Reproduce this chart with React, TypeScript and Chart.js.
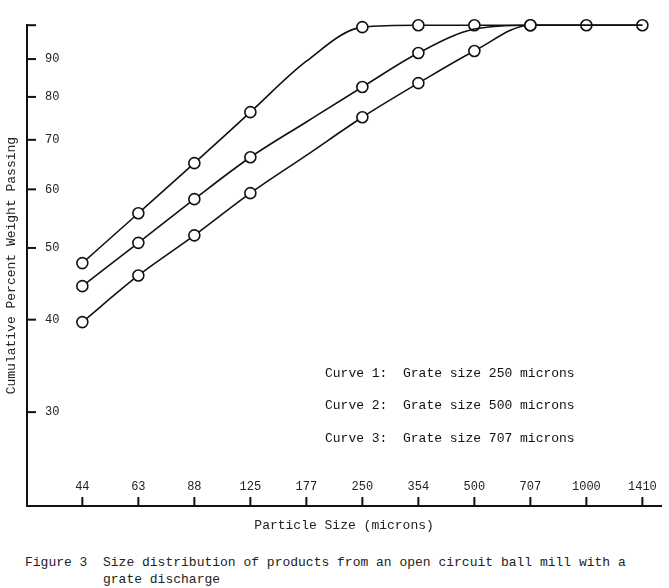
import React, { useEffect, useRef } from 'react';
import { Chart, registerables } from 'chart.js';

Chart.register(...registerables);

// Particle size classes (microns), evenly spaced on a sqrt(2) sieve series
const sizes = ['44', '63', '88', '125', '177', '250', '354', '500', '707', '1000', '1410'];

// Cumulative percent weight passing
const curve1 = [47.7, 55.7, 65.1, 76.3, 89.4, 99.4, 100, 100, 100, 100, 100];
const curve2 = [44.4, 50.8, 58.2, 66.3, 74.0, 82.5, 91.7, 98.8, 100, 100, 100];
const curve3 = [39.7, 45.9, 52.0, 59.3, 66.7, 75.1, 83.5, 92.3, 100, 100, 100];

// Indexes drawn without a marker for each curve
const noMarker1 = [4];
const noMarker2 = [4, 7, 8, 9, 10];
const noMarker3 = [4, 9, 10];

const yTicks = [30, 40, 50, 60, 70, 80, 90, 100];
const yTickLabels = ['30', '40', '50', '60', '70', '80', '90', ''];

const legendLines = [
  'Curve 1:  Grate size 250 microns',
  'Curve 2:  Grate size 500 microns',
  'Curve 3:  Grate size 707 microns',
];

const MONO = '"Liberation Mono", "DejaVu Sans Mono", monospace';

export default function App() {
  const ref = useRef<HTMLCanvasElement>(null);

  useEffect(() => {
    if (!ref.current) return;

    const tickMarks = {
      id: 'tickMarks',
      afterDraw(chart: any) {
        const { ctx, chartArea, scales } = chart;
        ctx.save();
        ctx.strokeStyle = '#111';
        ctx.lineWidth = 2;
        scales.x.ticks.forEach((t: any) => {
          const px = scales.x.getPixelForValue(t.value);
          ctx.beginPath();
          ctx.moveTo(px, chartArea.bottom);
          ctx.lineTo(px, chartArea.bottom - 9);
          ctx.stroke();
        });
        scales.y.ticks.forEach((t: any) => {
          const py = scales.y.getPixelForValue(t.value);
          ctx.beginPath();
          ctx.moveTo(chartArea.left, py);
          ctx.lineTo(chartArea.left + 9, py);
          ctx.stroke();
        });
        ctx.restore();
      },
    };

    const mk = (vals: number[], hidden: number[]) => ({
      data: vals.map((y, i) => ({ x: i, y })),
      borderColor: '#111',
      borderWidth: 1.6,
      cubicInterpolationMode: 'monotone' as const,
      pointRadius: (c: any) => (hidden.includes(c.dataIndex) ? 0 : 5.5),
      pointBackgroundColor: '#fff',
      pointBorderColor: '#111',
      pointBorderWidth: 1.6,
      clip: false as any,
      fill: false,
    });

    const chart = new Chart(ref.current, {
      type: 'line',
      data: {
        datasets: [
          { label: 'Curve 3', ...mk(curve3, noMarker3) },
          { label: 'Curve 2', ...mk(curve2, noMarker2) },
          { label: 'Curve 1', ...mk(curve1, noMarker1) },
        ],
      },
      options: {
        animation: false,
        responsive: false,
        devicePixelRatio: 1,
        layout: { padding: { top: 25, left: 0, right: 0, bottom: 0 } },
        plugins: { legend: { display: false }, tooltip: { enabled: false } },
        scales: {
          x: {
            type: 'linear',
            min: -0.988,
            max: 10.335,
            afterBuildTicks: (s: any) => {
              s.ticks = sizes.map((_, i) => ({ value: i }));
            },
            afterFit: (s: any) => {
              s.height = 39;
            },
            grid: { display: false },
            border: { display: true, color: '#111', width: 2 },
            ticks: {
              mirror: true,
              padding: 12,
              color: '#222',
              font: { family: MONO, size: 12 },
              callback: (v: any) => sizes[v] ?? '',
              maxRotation: 0,
              autoSkip: false,
            },
            title: {
              display: true,
              text: 'Particle Size (microns)',
              color: '#222',
              font: { family: MONO, size: 13 },
              padding: { top: 0, bottom: 12 },
            },
          },
          y: {
            type: 'logarithmic',
            min: 22.4,
            max: 100,
            afterBuildTicks: (s: any) => {
              s.ticks = yTicks.map((v) => ({ value: v }));
            },
            afterFit: (s: any) => {
              s.width = 27;
            },
            grid: { display: false },
            border: { display: true, color: '#111', width: 2 },
            ticks: {
              mirror: true,
              padding: 18,
              color: '#222',
              font: { family: MONO, size: 12 },
              callback: (v: any) => {
                const i = yTicks.indexOf(Number(v));
                return i >= 0 ? yTickLabels[i] : '';
              },
            },
            title: {
              display: true,
              text: 'Cumulative Percent Weight Passing',
              color: '#222',
              font: { family: MONO, size: 13 },
              padding: { top: 4, bottom: 0 },
            },
          },
        },
      },
      plugins: [tickMarks],
    });

    return () => chart.destroy();
  }, []);

  return (
    <div
      style={{
        position: 'fixed',
        left: 0,
        top: 0,
        width: 669,
        height: 588,
        background: '#fff',
        overflow: 'hidden',
      }}
    >
      <canvas
        ref={ref}
        width={669}
        height={545}
        style={{ position: 'absolute', left: 0, top: 0, width: 669, height: 545 }}
      />
      {legendLines.map((t, i) => (
        <div
          key={i}
          style={{
            position: 'absolute',
            left: 325,
            top: [365.5, 397.5, 430.5][i],
            font: `13px/15px ${MONO}`,
            color: '#111',
            whiteSpace: 'pre',
          }}
        >
          {t}
        </div>
      ))}
      <div
        style={{
          position: 'absolute',
          left: 25,
          top: 553.5,
          font: `13px/17px ${MONO}`,
          color: '#222',
          whiteSpace: 'pre',
        }}
      >
        {'Figure 3  Size distribution of products from an open circuit ball mill with a\n          grate discharge'}
      </div>
    </div>
  );
}
